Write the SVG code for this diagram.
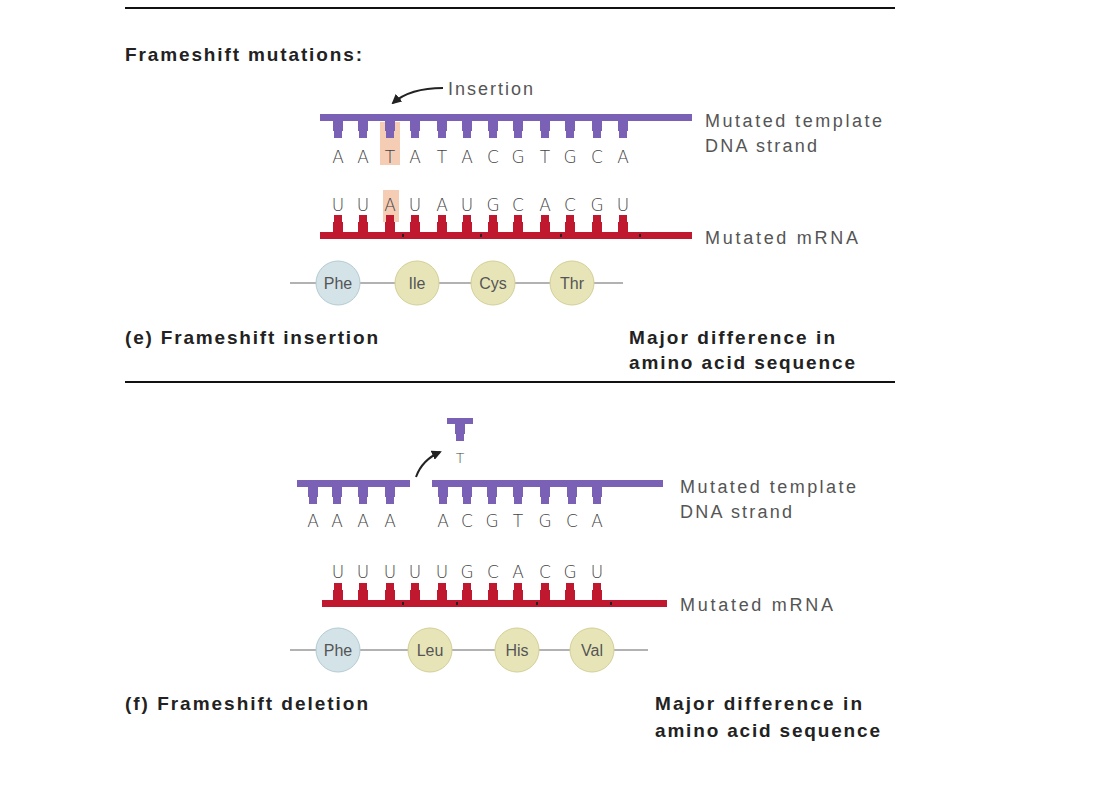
<svg xmlns="http://www.w3.org/2000/svg" xmlns:xlink="http://www.w3.org/1999/xlink" width="1106" height="804" viewBox="0 0 1106 804">
<style>
.h{font-family:"Liberation Sans",Arial,sans-serif;font-weight:bold;font-size:19px;fill:#222}
.l{font-family:"Liberation Sans",Arial,sans-serif;font-size:18px;fill:#555}
.b{font-family:"DejaVu Sans",sans-serif;font-size:17px;fill:#444;text-anchor:middle;font-weight:300}
.aa{font-family:"Liberation Sans",Arial,sans-serif;font-size:16px;fill:#555;text-anchor:middle}
.p{fill:#7b61b5}.r{fill:#c0182e}
.c1{fill:#d3e3e8;stroke:#b3cbd2}.c2{fill:#e7e5b8;stroke:#d2cf96}
.ln{stroke:#999;stroke-width:1.5}
</style>
<defs>
<path id="dt" d="M-5,0H5V11H4V18H-4V11H-5Z" class="p"/>
<path id="rt" d="M-5,0H5V-11H4V-18H-4V-11H-5Z" class="r"/>
<marker id="ah" viewBox="0 0 10 10" refX="8" refY="5" markerWidth="5" markerHeight="5" orient="auto"><path d="M0,0L10,5L0,10Z" fill="#222"/></marker>
</defs>
<rect width="1106" height="804" fill="#fff"/>
<line x1="125" y1="8" x2="895" y2="8" stroke="#111" stroke-width="2"/>
<line x1="125" y1="382" x2="895" y2="382" stroke="#111" stroke-width="2"/>
<text class="h" x="125" y="61" textLength="237" lengthAdjust="spacing">Frameshift mutations:</text>
<g id="connectors">
<path d="M443,88 Q410,88 393,103" fill="none" stroke="#222" stroke-width="2" marker-end="url(#ah)"/>
<path d="M416,477 Q422,460 440,452" fill="none" stroke="#222" stroke-width="2" marker-end="url(#ah)"/>
</g>
<g id="insertion">
<text class="l" x="448" y="95" textLength="85" lengthAdjust="spacing">Insertion</text>
<rect x="380" y="122" width="20" height="43" fill="#f5cdb5"/>
<rect x="383" y="190" width="16" height="32" fill="#f5cdb5"/>
<rect x="320" y="114" width="372" height="7" class="p"/>
<g transform="translate(0,120)">
<use xlink:href="#dt" x="338"/><use xlink:href="#dt" x="363"/><use xlink:href="#dt" x="390"/><use xlink:href="#dt" x="415"/><use xlink:href="#dt" x="442"/><use xlink:href="#dt" x="467"/><use xlink:href="#dt" x="493"/><use xlink:href="#dt" x="518"/><use xlink:href="#dt" x="545"/><use xlink:href="#dt" x="570"/><use xlink:href="#dt" x="597"/><use xlink:href="#dt" x="623"/>
</g>
<g class="b">
<text x="338" y="163">A</text><text x="363" y="163">A</text><text x="390" y="163">T</text><text x="415" y="163">A</text><text x="442" y="163">T</text><text x="467" y="163">A</text><text x="493" y="163">C</text><text x="518" y="163">G</text><text x="545" y="163">T</text><text x="570" y="163">G</text><text x="597" y="163">C</text><text x="623" y="163">A</text>
<text x="338" y="211">U</text><text x="363" y="211">U</text><text x="390" y="211">A</text><text x="415" y="211">U</text><text x="442" y="211">A</text><text x="467" y="211">U</text><text x="493" y="211">G</text><text x="518" y="211">C</text><text x="545" y="211">A</text><text x="570" y="211">C</text><text x="597" y="211">G</text><text x="623" y="211">U</text>
</g>
<rect x="320" y="232" width="372" height="7" class="r"/>
<g transform="translate(0,233)">
<use xlink:href="#rt" x="338"/><use xlink:href="#rt" x="363"/><use xlink:href="#rt" x="390"/><use xlink:href="#rt" x="415"/><use xlink:href="#rt" x="442"/><use xlink:href="#rt" x="467"/><use xlink:href="#rt" x="493"/><use xlink:href="#rt" x="518"/><use xlink:href="#rt" x="545"/><use xlink:href="#rt" x="570"/><use xlink:href="#rt" x="597"/><use xlink:href="#rt" x="623"/>
</g>
<g fill="#222"><rect x="402" y="234" width="2" height="3"/><rect x="480" y="234" width="2" height="3"/><rect x="560" y="234" width="2" height="3"/><rect x="639" y="234" width="2" height="3"/></g>
<text class="l" x="705" y="127" textLength="177" lengthAdjust="spacing">Mutated template</text>
<text class="l" x="705" y="152" textLength="112" lengthAdjust="spacing">DNA strand</text>
<text class="l" x="705" y="244" textLength="153" lengthAdjust="spacing">Mutated mRNA</text>
<line x1="290" y1="283" x2="623" y2="283" class="ln"/>
<circle cx="338" cy="283" r="22" class="c1"/><circle cx="417" cy="283" r="22" class="c2"/><circle cx="493" cy="283" r="22" class="c2"/><circle cx="572" cy="283" r="22" class="c2"/>
<g class="aa"><text x="338" y="289">Phe</text><text x="417" y="289">Ile</text><text x="493" y="289">Cys</text><text x="572" y="289">Thr</text></g>
<text class="h" x="125" y="344" textLength="253" lengthAdjust="spacing">(e) Frameshift insertion</text>
<text class="h" x="629" y="344" textLength="206" lengthAdjust="spacing">Major difference in</text>
<text class="h" x="629" y="369" textLength="226" lengthAdjust="spacing">amino acid sequence</text>
</g>
<g id="deletion">
<rect x="447" y="418" width="26" height="6" class="p"/>
<use xlink:href="#dt" x="460" y="423"/>
<text class="b" x="460" y="463" style="font-size:14px">T</text>
<rect x="297" y="480" width="113" height="7" class="p"/>
<rect x="432" y="480" width="231" height="7" class="p"/>
<g transform="translate(0,486)">
<use xlink:href="#dt" x="313"/><use xlink:href="#dt" x="337"/><use xlink:href="#dt" x="363"/><use xlink:href="#dt" x="390"/><use xlink:href="#dt" x="443"/><use xlink:href="#dt" x="467"/><use xlink:href="#dt" x="492"/><use xlink:href="#dt" x="518"/><use xlink:href="#dt" x="545"/><use xlink:href="#dt" x="572"/><use xlink:href="#dt" x="597"/>
</g>
<g class="b">
<text x="313" y="527">A</text><text x="337" y="527">A</text><text x="363" y="527">A</text><text x="390" y="527">A</text><text x="443" y="527">A</text><text x="467" y="527">C</text><text x="492" y="527">G</text><text x="518" y="527">T</text><text x="545" y="527">G</text><text x="572" y="527">C</text><text x="597" y="527">A</text>
<text x="338" y="578">U</text><text x="363" y="578">U</text><text x="390" y="578">U</text><text x="415" y="578">U</text><text x="442" y="578">U</text><text x="467" y="578">G</text><text x="493" y="578">C</text><text x="518" y="578">A</text><text x="545" y="578">C</text><text x="570" y="578">G</text><text x="597" y="578">U</text>
</g>
<rect x="322" y="600" width="345" height="7" class="r"/>
<g transform="translate(0,601)">
<use xlink:href="#rt" x="338"/><use xlink:href="#rt" x="363"/><use xlink:href="#rt" x="390"/><use xlink:href="#rt" x="415"/><use xlink:href="#rt" x="442"/><use xlink:href="#rt" x="467"/><use xlink:href="#rt" x="493"/><use xlink:href="#rt" x="518"/><use xlink:href="#rt" x="545"/><use xlink:href="#rt" x="570"/><use xlink:href="#rt" x="597"/>
</g>
<g fill="#222"><rect x="402" y="602" width="2" height="3"/><rect x="456" y="602" width="2" height="3"/><rect x="536" y="602" width="2" height="3"/><rect x="610" y="602" width="2" height="3"/></g>
<text class="l" x="680" y="493" textLength="176" lengthAdjust="spacing">Mutated template</text>
<text class="l" x="680" y="518" textLength="112" lengthAdjust="spacing">DNA strand</text>
<text class="l" x="680" y="611" textLength="153" lengthAdjust="spacing">Mutated mRNA</text>
<line x1="290" y1="650" x2="648" y2="650" class="ln"/>
<circle cx="338" cy="650" r="22" class="c1"/><circle cx="430" cy="650" r="22" class="c2"/><circle cx="517" cy="650" r="22" class="c2"/><circle cx="592" cy="650" r="22" class="c2"/>
<g class="aa"><text x="338" y="656">Phe</text><text x="430" y="656">Leu</text><text x="517" y="656">His</text><text x="592" y="656">Val</text></g>
<text class="h" x="125" y="710" textLength="243" lengthAdjust="spacing">(f) Frameshift deletion</text>
<text class="h" x="655" y="710" textLength="207" lengthAdjust="spacing">Major difference in</text>
<text class="h" x="655" y="737" textLength="225" lengthAdjust="spacing">amino acid sequence</text>
</g>
</svg>
